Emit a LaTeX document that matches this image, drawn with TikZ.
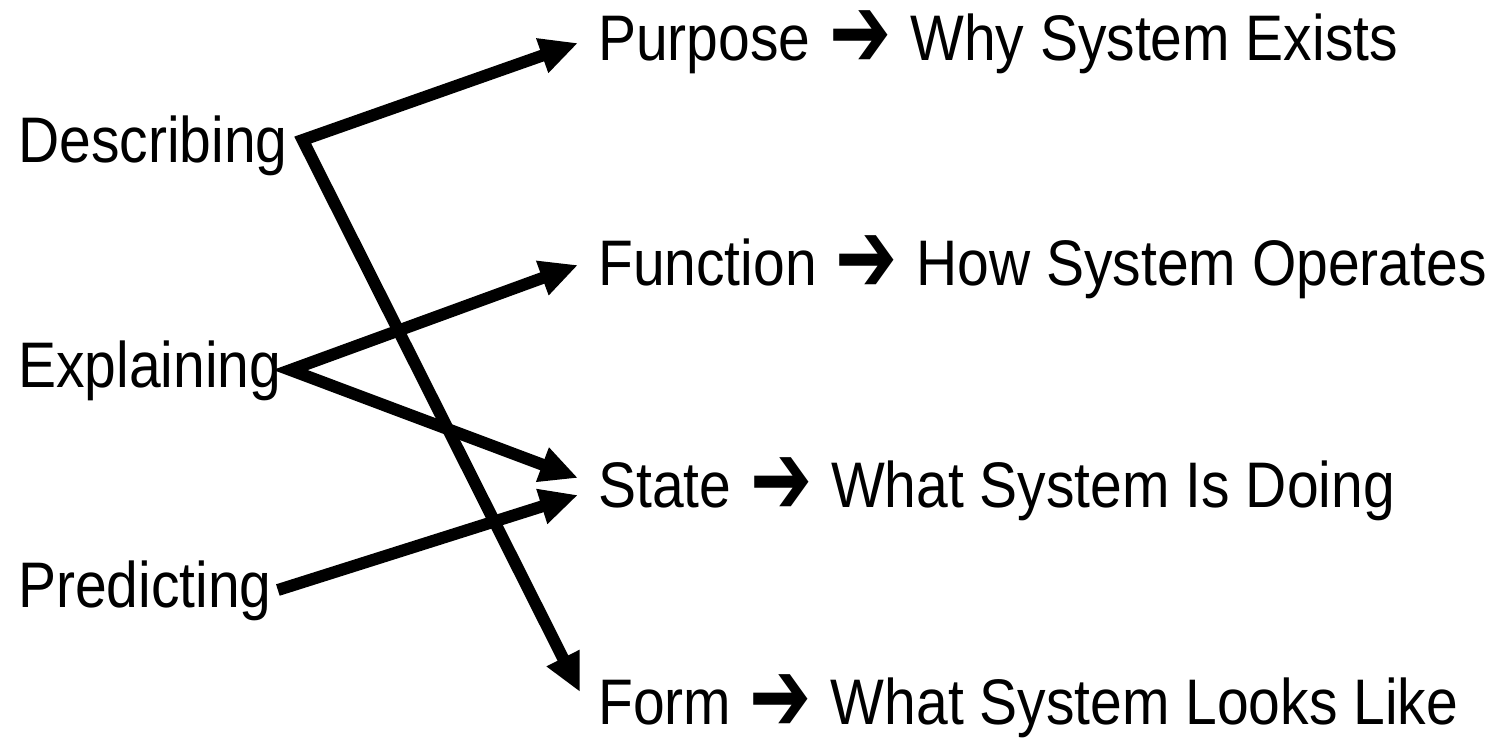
\documentclass[tikz,border=0pt]{standalone}
\usepackage{fontspec}
\setmainfont{Liberation Sans}
\newfontfamily\dejavu{DejaVu Sans}
\usetikzlibrary{arrows.meta,calc}
\newcommand{\harr}{\hspace{0.33em}\raisebox{-0.11em}{\scalebox{1.3}[1.6]{\dejavu ➔}}\hspace{0.33em}}
\newcommand{\lbl}[1]{\scalebox{1}[1.13]{#1}}
\tikzset{
  lab/.style={anchor=base west, inner sep=0pt, font=\fontsize{57}{62}\selectfont},
  conn/.style={line width=12pt, line join=miter, draw=black, -{Triangle[length=38pt,width=34pt]}},
  conn2/.style={line width=12pt, line join=miter, draw=black, {Triangle[length=38pt,width=34pt]}-{Triangle[length=38pt,width=34pt]}}
}
\begin{document}
\begin{tikzpicture}[x=1pt,y=-1pt]
\useasboundingbox (0,0) rectangle (1499,740);
\fill[white] (0,0) rectangle (1499,740);
% left nodes
\node[lab] (desc) at (18,162) {\lbl{Describing}};
\node[lab] (expl) at (18,387) {\lbl{Explaining}};
\node[lab] (pred) at (18,607) {\lbl{Predicting}};
% right nodes
\node[lab] (purp) at (598,60) {\lbl{Purpose\harr Why System Exists}};
\node[lab] (func) at (598,285) {\lbl{Function\harr How System Operates}};
\node[lab] (stat) at (598,507) {\lbl{State\harr What System Is Doing}};
\node[lab] (form) at (598,724) {\lbl{Form\harr What System Looks Like}};
% connectors
\draw[conn2] ($(purp.base west)+(-20,-17)$) -- ($(desc.base east)+(15,-22)$) -- ($(form.base west)+(-18,-32)$);
\draw[conn2] ($(func.base west)+(-20,-20)$) -- ($(expl.base east)+(9,-17)$) -- ($(stat.base west)+(-20,-29)$);
\draw[conn] ($(pred.base east)+(6,-17)$) -- ($(stat.base west)+(-20,-12)$);
\end{tikzpicture}
\end{document}
